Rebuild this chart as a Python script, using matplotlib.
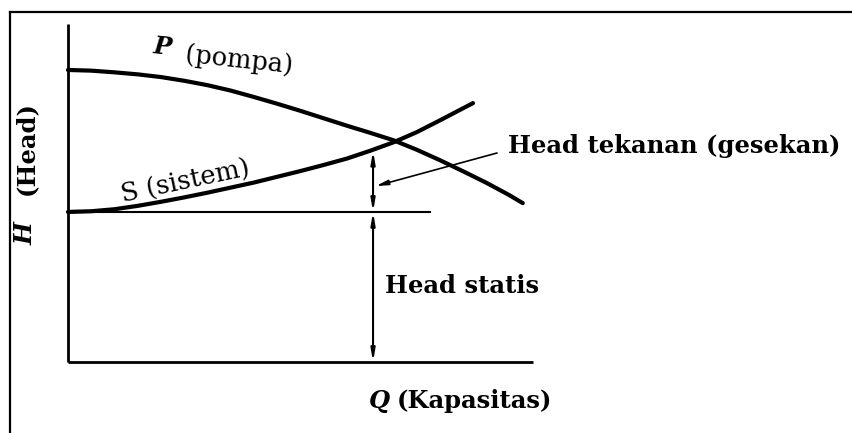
import matplotlib
matplotlib.use("Agg")
import matplotlib.pyplot as plt
from matplotlib.lines import Line2D

# pump curve P (schematic units, Q and H both 0..100)
q_pump = [0, 5, 10, 15, 20, 25, 30, 35, 40, 45, 50, 55, 60, 65, 70, 75, 80, 85, 90, 95, 97.8]
h_pump = [86.4, 86.2, 85.7, 85.1, 84.3, 83.2, 81.9, 80.3, 78.4, 76.4, 74.3, 72.1,
          69.9, 67.8, 65.6, 62.8, 59.7, 56.4, 53.0, 49.3, 47.0]

# system curve S
q_sys = [0, 5, 10, 15, 20, 25, 30, 35, 40, 45, 50, 55, 60, 65, 70, 75, 80, 85, 87.1]
h_sys = [44.4, 44.6, 45.2, 46.2, 47.4, 48.7, 50.1, 51.6, 53.1, 54.8, 56.5, 58.3,
         60.2, 62.5, 65.0, 68.0, 71.5, 75.1, 76.6]

h_static = 44.4
q_static_end = 77.8
q_oper = 65.6
h_oper = 62.5

plt.rcParams['font.family'] = ['DejaVu Serif']

W, H = 853, 433
fig = plt.figure(figsize=(W / 100, H / 100), dpi=100)
ax = fig.add_axes([0, 0, 1, 1])
ax.set_axis_off()

# pixel -> schematic units (origin at the axis corner)
x0, y0, sx, sy = 68, 362, 4.65, 3.38
ax.set_xlim(-x0 / sx, (W - x0) / sx)
ax.set_ylim((y0 - H) / sy, y0 / sy)


def px(x, y):
    return (x - x0) / sx, (y0 - y) / sy


# outer frame (left and top only)
fig.add_artist(Line2D([10 / W, 10 / W], [0, 1 - 12 / H], color='black', lw=1.6))
fig.add_artist(Line2D([10 / W, 1], [1 - 12 / H, 1 - 12 / H], color='black', lw=1.6))

# axes
ax.plot([0, 0], [0, 100], color='black', lw=2.0, solid_capstyle='butt')
ax.plot([0, 100], [0, 0], color='black', lw=2.0, solid_capstyle='butt')

# curves
ax.plot(q_pump, h_pump, color='black', lw=3.0, solid_capstyle='round')
ax.plot(q_sys, h_sys, color='black', lw=3.0, solid_capstyle='round')

# static head line
ax.plot([0, q_static_end], [h_static, h_static], color='black', lw=1.5)

# vertical dimension arrows
arr = dict(arrowstyle='<|-|>,head_length=0.7,head_width=0.12', color='black',
           lw=1.5, shrinkA=0, shrinkB=0)
ax.annotate('', xy=(q_oper, h_oper), xytext=(q_oper, h_static), arrowprops=arr)
ax.annotate('', xy=(q_oper, h_static), xytext=(q_oper, 0), arrowprops=arr)

# pointer to friction head
ax.annotate('', xy=px(376, 186), xytext=px(497, 153),
            arrowprops=dict(arrowstyle='-|>,head_length=0.7,head_width=0.15',
                            color='black', lw=1.2, shrinkA=0, shrinkB=0))

fs = 17.5
ax.text(*px(508, 146), 'Head tekanan (gesekan)', fontsize=fs, fontweight='bold',
        ha='left', va='center')
ax.text(*px(385, 286), 'Head statis', fontsize=fs, fontweight='bold',
        ha='left', va='center')

# axis labels
ax.text(*px(369, 408), 'Q', fontsize=fs, fontweight='bold', style='italic',
        ha='left', va='baseline')
ax.text(*px(397, 408), '(Kapasitas)', fontsize=fs, fontweight='bold',
        ha='left', va='baseline')
ax.text(*px(26, 234), 'H', fontsize=fs, fontweight='bold', style='italic',
        rotation=90, ha='center', va='center', rotation_mode='anchor')
ax.text(*px(26, 148), '(Head)', fontsize=fs, fontweight='bold',
        rotation=90, ha='center', va='center', rotation_mode='anchor')

# curve labels
ax.text(*px(153, 53), 'P', fontsize=fs, fontweight='bold', style='italic',
        rotation=-6, ha='left', va='baseline', rotation_mode='anchor')
ax.text(*px(185, 62), '(pompa)', fontsize=fs + 1, rotation=-6,
        ha='left', va='baseline', rotation_mode='anchor')
ax.text(*px(123, 203), 'S (sistem)', fontsize=fs + 1, rotation=12,
        ha='left', va='baseline', rotation_mode='anchor')

fig.savefig('out.png', dpi=100, facecolor='white')
